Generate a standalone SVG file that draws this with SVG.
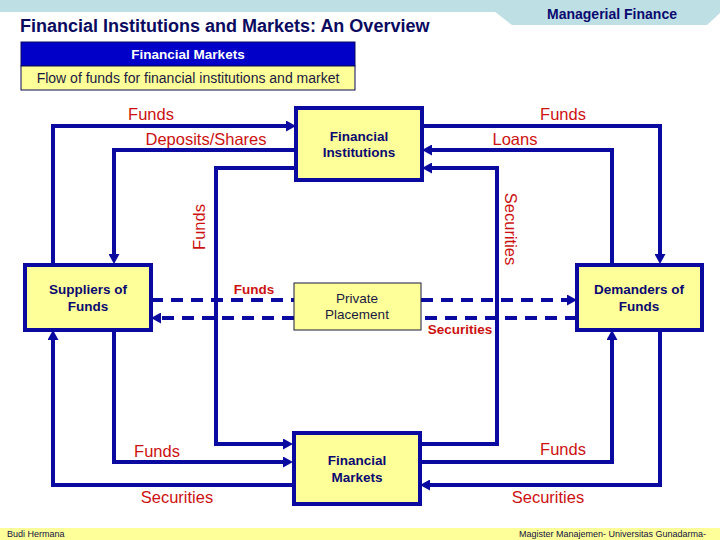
<svg xmlns="http://www.w3.org/2000/svg" width="720" height="540" viewBox="0 0 720 540">
<style>
.node{fill:#FFFF99;stroke:#0A0AA0;stroke-width:4}
.thin{fill:#FFFF99;stroke:#1a1a40;stroke-width:1}
.nt{font-family:"Liberation Sans",Arial,sans-serif;font-weight:bold;font-size:13.5px;fill:#0A0A70;text-anchor:middle}
.nn{font-family:"Liberation Sans",Arial,sans-serif;font-size:13.5px;fill:#1a1a40;text-anchor:middle}
.lbl{font-family:"Liberation Sans",Arial,sans-serif;font-size:16.5px;fill:#CC1111;text-anchor:middle}
.lbs{font-family:"Liberation Sans",Arial,sans-serif;font-size:13.5px;font-weight:bold;fill:#CC1111;text-anchor:middle}
.con{fill:none;stroke:#0A0AA0;stroke-width:4}
.dash{fill:none;stroke:#0A0AA0;stroke-width:4;stroke-dasharray:12 8}
.foot{font-family:"Liberation Sans",Arial,sans-serif;font-size:9px;fill:#101040}
</style>
<defs>
<marker id="arr" markerUnits="userSpaceOnUse" markerWidth="10" markerHeight="11" refX="0" refY="5.5" orient="auto">
<path d="M0,0 L10,5.5 L0,11 z" fill="#0A0AA0"/>
</marker>
</defs>
<rect x="0" y="0" width="720" height="540" fill="#ffffff"/>
<g id="header">
<rect x="0" y="0" width="720" height="12" fill="#BEDFE3"/>
<polygon points="494,11 720,11 720,13 707,25 512,25" fill="#BEDFE3"/>
<text x="612" y="19" font-family="Liberation Sans,Arial,sans-serif" font-weight="bold" font-size="14" fill="#0A0A70" text-anchor="middle">Managerial Finance</text>
<text x="20" y="32" font-family="Liberation Sans,Arial,sans-serif" font-weight="bold" font-size="18" fill="#0A0A60">Financial Institutions and Markets: An Overview</text>
<rect x="21" y="42" width="334" height="24" fill="#0000C8" stroke="#0A0A60" stroke-width="1"/>
<text x="188" y="59" font-family="Liberation Sans,Arial,sans-serif" font-weight="bold" font-size="13.5" fill="#ffffff" text-anchor="middle">Financial Markets</text>
<rect x="21" y="66" width="334" height="24" fill="#FFFF99" stroke="#0A0A60" stroke-width="1"/>
<text x="188" y="83" font-family="Liberation Sans,Arial,sans-serif" font-size="14" fill="#1a1a40" text-anchor="middle">Flow of funds for financial institutions and market</text>
</g>
<g id="connectors">
<path class="con" d="M53,264 V126 H286" marker-end="url(#arr)"/>
<path class="con" d="M296,150 H114 V254" marker-end="url(#arr)"/>
<path class="con" d="M296,168 H216 V444 H283" marker-end="url(#arr)"/>
<path class="con" d="M114,330 V462 H283" marker-end="url(#arr)"/>
<path class="con" d="M293,485 H53 V340" marker-end="url(#arr)"/>
<path class="con" d="M422,126 H660 V254" marker-end="url(#arr)"/>
<path class="con" d="M612,264 V150 H432" marker-end="url(#arr)"/>
<path class="con" d="M420,444 H497 V168 H432" marker-end="url(#arr)"/>
<path class="con" d="M420,462 H612 V340" marker-end="url(#arr)"/>
<path class="con" d="M660,330 V485 H430" marker-end="url(#arr)"/>
<path class="dash" d="M151,300 H294"/>
<path class="dash" d="M421,300 H567" marker-end="url(#arr)"/>
<path class="dash" d="M577,318 H421"/>
<path class="dash" d="M294,318 H161" marker-end="url(#arr)"/>
</g>
<g id="labels">
<text class="lbl" x="151" y="120">Funds</text>
<text class="lbl" x="206" y="145">Deposits/Shares</text>
<text class="lbl" x="563" y="120">Funds</text>
<text class="lbl" x="515" y="145">Loans</text>
<text class="lbl" transform="translate(205,227) rotate(-90)">Funds</text>
<text class="lbl" transform="translate(505,229) rotate(90)">Securities</text>
<text class="lbs" x="254" y="294">Funds</text>
<text class="lbs" x="460" y="334">Securities</text>
<text class="lbl" x="157" y="457">Funds</text>
<text class="lbl" x="177" y="503">Securities</text>
<text class="lbl" x="563" y="455">Funds</text>
<text class="lbl" x="548" y="503">Securities</text>
</g>
<g id="financial-institutions">
<rect class="node" x="296" y="108" width="126" height="72"/>
<text class="nt" x="359" y="141">Financial</text>
<text class="nt" x="359" y="157">Institutions</text>
</g>
<g id="suppliers">
<rect class="node" x="25" y="265" width="126" height="65"/>
<text class="nt" x="88" y="294">Suppliers of</text>
<text class="nt" x="88" y="311">Funds</text>
</g>
<g id="demanders">
<rect class="node" x="577" y="265" width="125" height="65"/>
<text class="nt" x="639" y="294">Demanders of</text>
<text class="nt" x="639" y="311">Funds</text>
</g>
<g id="private-placement">
<rect class="thin" x="294" y="283" width="127" height="47"/>
<text class="nn" x="357" y="303">Private</text>
<text class="nn" x="357" y="319">Placement</text>
</g>
<g id="financial-markets">
<rect class="node" x="294" y="433" width="126" height="71"/>
<text class="nt" x="357" y="465">Financial</text>
<text class="nt" x="357" y="482">Markets</text>
</g>
<g id="footer">
<rect x="0" y="528" width="720" height="12" fill="#FFFF99"/>
<text class="foot" x="7" y="537">Budi Hermana</text>
<text class="foot" x="706" y="537" text-anchor="end">Magister Manajemen- Universitas Gunadarma-</text>
</g>
</svg>
